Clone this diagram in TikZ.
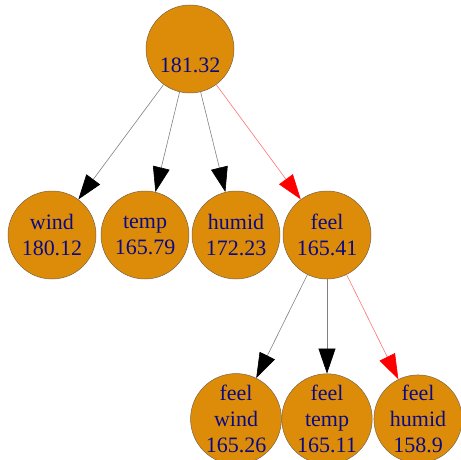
\documentclass[tikz,border=0pt]{standalone}
\usepackage{fontspec}
\setmainfont{Liberation Serif}
\usetikzlibrary{arrows.meta}
\definecolor{nodefill}{RGB}{221,140,10}
\definecolor{nodetext}{RGB}{10,10,130}
\definecolor{nodeline}{RGB}{120,100,70}
\begin{document}
\begin{tikzpicture}[x=1pt,y=-1pt,
  treenode/.style={circle, fill=nodefill, draw=nodeline, line width=0.5pt,
    minimum size=88pt, inner sep=0pt, text=nodetext, align=center,
    font=\fontsize{22}{26}\selectfont},
  edge/.style={draw=black!50, line width=0.6pt,
    -{Triangle[length=25pt,width=17pt,fill=black,color=black]}},
  hot/.style={draw=red!55, line width=0.6pt,
    -{Triangle[length=25pt,width=17pt,fill=red,color=red]}}]
  \useasboundingbox (0,0) rectangle (461,460);
  % root
  \node[treenode] (root) at (190,49) {};
  \node[text=nodetext, font=\fontsize{22}{26}\selectfont, inner sep=0pt,
        anchor=base] (rootlbl) at (190,73) {181.32};
  % first split
  \node[treenode] (wind)  at (52,235)  {wind\\180.12};
  \node[treenode] (temp)  at (145,235) {temp\\165.79};
  \node[treenode] (humid) at (236,235) {humid\\172.23};
  \node[treenode] (feel)  at (327,235) {feel\\165.41};
  % second split under feel
  \node[treenode] (fwind)  at (236,419) {feel\\wind\\165.26};
  \node[treenode] (ftemp)  at (327,419) {feel\\temp\\165.11};
  \node[treenode] (fhumid) at (418,419) {feel\\humid\\158.9};
  % connectors
  \draw[edge] (root) -- (wind);
  \draw[edge] (root) -- (temp);
  \draw[edge] (root) -- (humid);
  \draw[hot]  (root) -- (feel);
  \draw[edge] (feel) -- (fwind);
  \draw[edge] (feel) -- (ftemp);
  \draw[hot]  (feel) -- (fhumid);
\end{tikzpicture}
\end{document}
